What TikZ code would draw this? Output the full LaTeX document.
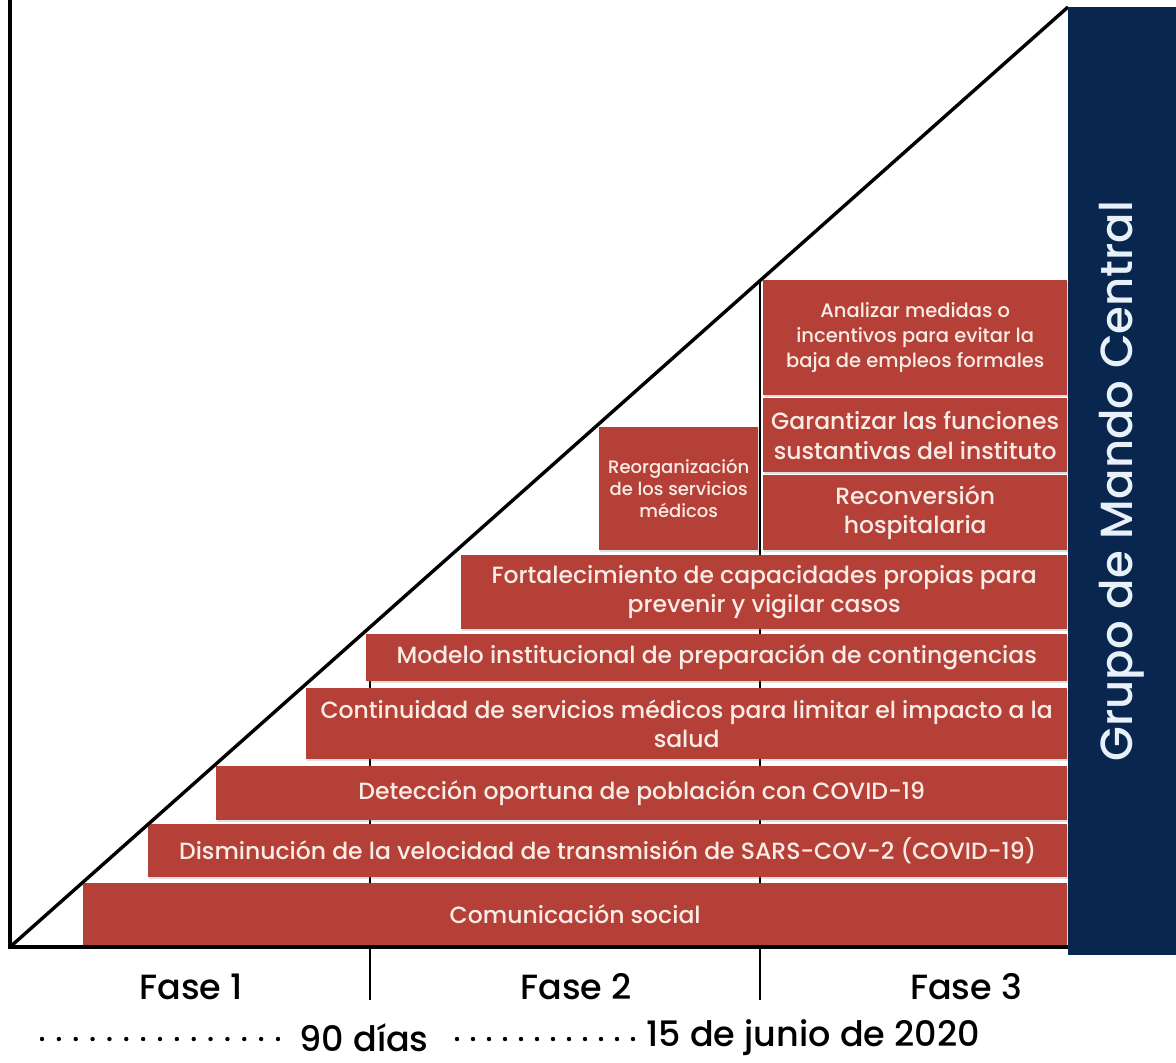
\documentclass[tikz,border=0pt]{standalone}
\usepackage{fontspec}
\setmainfont{Poppins Medium}
\usetikzlibrary{shadows}
\definecolor{barred}{RGB}{180,64,56}
\definecolor{navy}{RGB}{8,38,78}
\definecolor{cream}{RGB}{250,236,228}
\definecolor{paleblue}{RGB}{232,240,250}
\tikzset{
  bar/.style={fill=barred, draw=none, anchor=north west, inner sep=0pt, text=cream,
    align=center, font=\fontsize{23.5}{29.5}\selectfont,
    drop shadow={shadow xshift=1pt,shadow yshift=-2pt,opacity=0.25}},
  axisline/.style={line width=3.4pt, black},
  tickline/.style={line width=2.6pt, black},
  dotline/.style={line width=4.4pt, line cap=round, black},
  phase/.style={font=\fontsize{35}{40}\selectfont, text=black},
}
\begin{document}
\begin{tikzpicture}[x=1pt,y=-1pt]
\useasboundingbox (0,0) rectangle (1176,1063);
\fill[white] (0,0) rectangle (1176,1063);
% coordinates
\coordinate (o) at (10,947);
\coordinate (top) at (10,0);
\coordinate (baseR) at (1068,947);
\coordinate (apex) at (1068,7);
\coordinate (t1a) at (370,634);
\coordinate (t1b) at (370,1000);
\coordinate (t2a) at (760,281);
\coordinate (t2b) at (760,1000);
% phase separators
\draw[tickline] (t1a) -- (t1b);
\draw[tickline] (t2a) -- (t2b);
% bars
\node[bar, minimum width=984pt, minimum height=62pt] (com) at (83,883) {Comunicación social};
\node[bar, minimum width=919pt, minimum height=53pt] (dis) at (148,824) {Disminución de la velocidad de transmisión de SARS-COV-2 (COVID-19)};
\node[bar, minimum width=851pt, minimum height=54pt] (det) at (216,766) {Detección oportuna de población con COVID-19};
\node[bar, minimum width=761pt, minimum height=71pt] (con) at (306,688) {Continuidad de servicios médicos para limitar el impacto a la\\salud};
\node[bar, minimum width=701pt, minimum height=47pt] (mod) at (366,634) {Modelo institucional de preparación de contingencias};
\node[bar, minimum width=606pt, minimum height=74pt] (for) at (461,555) {Fortalecimiento de capacidades propias para\\prevenir y vigilar casos};
\node[bar, minimum width=159pt, minimum height=123pt, font=\fontsize{18}{22}\selectfont] (reo) at (599,427) {Reorganización\\de los servicios\\médicos};
\node[bar, minimum width=304pt, minimum height=75pt, font=\fontsize{23.5}{28.5}\selectfont] (rec) at (763,475) {Reconversión\\hospitalaria};
\node[bar, minimum width=304pt, minimum height=74pt, font=\fontsize{23.5}{30}\selectfont] (gar) at (763,398) {Garantizar las funciones\\sustantivas del instituto};
\node[bar, minimum width=304pt, minimum height=115pt, font=\fontsize{19.5}{25}\selectfont] (ana) at (763,280) {Analizar medidas o\\incentivos para evitar la\\baja de empleos formales};
% axes and diagonal
\draw[axisline] (top) -- (o) -- (baseR);
\draw[axisline] (o) -- (apex);
% central group box
\fill[navy] (1068,7) rectangle (1176,955);
\node[rotate=90, text=paleblue, font=\fontsize{45}{50}\selectfont] (gmc) at (1122,481) {Grupo de Mando Central};
% phase labels
\node[phase] (f1) at (191,987) {Fase 1};
\node[phase] (f2) at (576,987) {Fase 2};
\node[phase] (f3) at (966,987) {Fase 3};
% timeline
\coordinate (d1a) at (42,1039);
\coordinate (d1b) at (278,1039);
\coordinate (d2a) at (457,1039);
\coordinate (d2b) at (633,1039);
\draw[dotline, dash pattern=on 0pt off 16.857pt] (d1a) -- (d1b);
\draw[dotline, dash pattern=on 0pt off 16pt] (d2a) -- (d2b);
\node[phase, anchor=west] (n90) at (296,1038) {90 días};
\node[phase, anchor=west] (fecha) at (643,1038) {15 de junio de 2020};
\end{tikzpicture}
\end{document}
